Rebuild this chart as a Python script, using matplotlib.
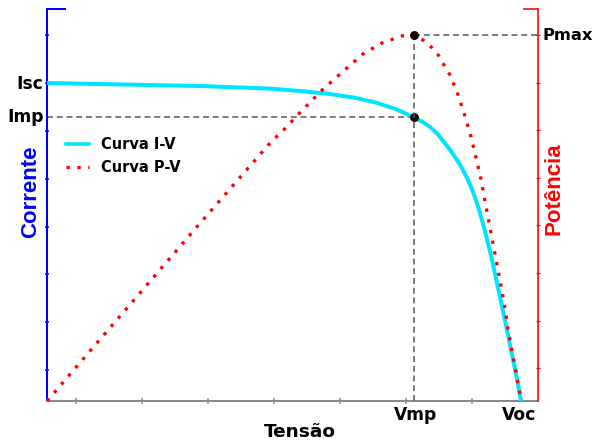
import matplotlib
matplotlib.use("Agg")
import matplotlib.pyplot as plt
from matplotlib.lines import Line2D

# ---------------- data ----------------
# I-V curve: voltage (V) and current (A)
V_IV = [0.0, 6.95, 10.13, 11.49, 12.85, 13.99, 14.90, 15.81, 16.67, 17.03, 17.40, 17.76,
        18.12, 18.39, 18.67, 18.89, 19.08, 19.26, 19.44, 19.62, 19.80, 19.98,
        20.17, 20.35, 20.53, 20.71, 20.89, 21.07, 21.26, 21.44, 21.53]
I_IV = [6.652, 6.589, 6.535, 6.485, 6.422, 6.343, 6.247, 6.113, 5.934, 5.847, 5.732, 5.575,
        5.365, 5.198, 5.010, 4.832, 4.665, 4.476, 4.257, 4.006, 3.713, 3.389,
        3.033, 2.657, 2.270, 1.883, 1.485, 1.077, 0.659, 0.230, 0.0]

# P-V curve: voltage (V) and power (W)
V_PV = [0.0, 6.81, 10.13, 10.78, 11.45, 12.49, 13.63, 14.35, 15.21, 16.12, 16.67,
        17.08, 17.49, 17.80, 18.03, 18.30, 18.67, 18.98, 19.26, 19.49, 19.71,
        19.89, 20.07, 20.26, 20.44, 20.62, 20.80, 20.94, 21.12, 21.30, 21.48, 21.53]
P_PV = [0.0, 3.66, 5.42, 5.71, 6.04, 6.53, 7.00, 7.29, 7.52, 7.67, 7.69,
        7.58, 7.42, 7.25, 7.06, 6.85, 6.43, 5.99, 5.55, 5.10, 4.66,
        4.20, 3.76, 3.30, 2.86, 2.42, 1.95, 1.51, 1.05, 0.61, 0.15, 0.0]

ISC, IMP = 6.652, 5.934
VMP, VOC = 16.67, 21.45
PMAX = 7.69

X_MAX, I_MAX, P_MAX_AX = 22.3, 8.2, 8.235
X_TICKS = [1.3, 4.3, 7.3, 10.3, 13.3, 16.3, 19.3]
I_TICKS = [0.65, 1.65, 2.65, 3.65, 4.65, 5.65, 6.65, 7.65]
P_TICKS = [0.69, 1.69, 2.69, 3.69, 4.69, 5.69, 6.69, 7.69]

LEG_LABELS = ["Curva I-V", "Curva P-V"]
X_LABEL, I_LABEL, P_LABEL = "Tensão", "Corrente", "Potência"

# ---------------- figure ----------------
W, H = 596, 440
fig = plt.figure(figsize=(W / 100, H / 100), dpi=100)
ax = fig.add_axes([47 / W, 39 / H, 491 / W, 392 / H])
ax2 = ax.twinx()

CYAN = "#00E5FF"
RED = "#FF0000"
BLUE = "#0000FF"
GRAY = "#8a8a8a"
DASH = "#555555"
px = 0.72  # points per pixel

ax.set_xlim(0, X_MAX)
ax.set_ylim(0, I_MAX)
ax2.set_ylim(0, P_MAX_AX)

# spines
for s in ["top", "right"]:
    ax.spines[s].set_visible(False)
for s in ["top", "left", "bottom"]:
    ax2.spines[s].set_visible(False)
ax.spines["left"].set_color(BLUE)
ax.spines["left"].set_linewidth(2 * px)
ax.spines["bottom"].set_color(GRAY)
ax.spines["bottom"].set_linewidth(2 * px)
ax2.spines["right"].set_color(RED)
ax2.spines["right"].set_linewidth(1.6 * px)

# ticks
ax.set_xticks(X_TICKS)
ax.set_xticklabels([])
ax.tick_params(axis="x", direction="inout", length=6 * px, width=1.5 * px, color=GRAY)
ax.set_yticks(I_TICKS)
ax.set_yticklabels([])
ax.set_yticks([I_MAX], minor=True)
ax.set_yticklabels([], minor=True)
ax.tick_params(axis="y", which="major", direction="inout", length=5 * px,
               width=1.5 * px, color=BLUE)
ax.tick_params(axis="y", which="minor", direction="in", length=19 * px,
               width=2 * px, color=BLUE)
ax2.set_yticks(P_TICKS)
ax2.set_yticklabels([])
ax2.set_yticks([P_MAX_AX], minor=True)
ax2.set_yticklabels([], minor=True)
ax2.tick_params(axis="y", which="major", direction="inout", length=5 * px,
                width=1.2 * px, color=RED)
ax2.tick_params(axis="y", which="minor", direction="in", length=15 * px,
                width=1.6 * px, color=RED)

# dashed guide lines
dash_style = (0, (4, 2.5))
ax.plot([0, VMP], [IMP, IMP], color=DASH, lw=1.5 * px, ls=dash_style, zorder=1)
ax2.plot([VMP, VMP], [0, PMAX], color=DASH, lw=1.5 * px, ls=dash_style, zorder=1)
ax2.plot([VMP, X_MAX], [PMAX, PMAX], color=DASH, lw=1.5 * px, ls=dash_style, zorder=1)

# curves
dot_style = (0, (1, 2.3))
ax.plot(V_IV, I_IV, color=CYAN, lw=4 * px, solid_capstyle="butt",
        solid_joinstyle="round", zorder=3, clip_on=False)
ax2.plot(V_PV, P_PV, color=RED, lw=3.3 * px, ls=dot_style, zorder=4, clip_on=False)

# markers
ax.plot([VMP], [IMP], "o", color="#1a0505", ms=7.5 * px, zorder=5, clip_on=False)
ax2.plot([VMP], [PMAX], "o", color="#1a0505", ms=7.5 * px, zorder=5, clip_on=False)

# point labels
lab_kw = dict(fontweight="bold", color="black", family="DejaVu Sans")
ax.annotate("Isc", xy=(0, ISC), xycoords=("axes fraction", "data"), xytext=(-4 * px, -6 * px),
            textcoords="offset points", ha="right", va="baseline", fontsize=12.3, **lab_kw)
ax.annotate("Imp", xy=(0, IMP), xycoords=("axes fraction", "data"), xytext=(-3 * px, -5 * px),
            textcoords="offset points", ha="right", va="baseline", fontsize=12.3, **lab_kw)
ax2.annotate("Pmax", xy=(1, PMAX), xycoords=("axes fraction", "data"), xytext=(5 * px, -5 * px),
             textcoords="offset points", ha="left", va="baseline", fontsize=11.8, **lab_kw)
ax.annotate("Vmp", xy=(VMP, 0), xycoords=("data", "axes fraction"), xytext=(2 * px, -19 * px),
            textcoords="offset points", ha="center", va="baseline", fontsize=12.3, **lab_kw)
ax.annotate("Voc", xy=(VOC, 0), xycoords=("data", "axes fraction"), xytext=(0, -19 * px),
            textcoords="offset points", ha="center", va="baseline", fontsize=12.3, **lab_kw)

# axis titles
fig.text(300 / W, 1 - 437 / H, X_LABEL, ha="center", va="baseline", fontsize=13.3,
         fontweight="bold", color="black", family="DejaVu Sans")
fig.text(30.5 / W, 1 - 191.5 / H, I_LABEL, ha="center", va="center", rotation=90,
         fontsize=16, fontweight="bold", color=BLUE, family="Liberation Sans")
fig.text(554 / W, 1 - 189 / H, P_LABEL, ha="center", va="center", rotation=90,
         fontsize=16, fontweight="bold", color=RED, family="Liberation Sans")

# legend
handles = [Line2D([], [], color=CYAN, lw=3.5 * px),
           Line2D([], [], color=RED, lw=3.3 * px, ls=dot_style)]
leg = ax2.legend(handles, LEG_LABELS, loc="upper left",
                 bbox_to_anchor=(66 / W, 1 - 137 / H), bbox_transform=fig.transFigure,
                 frameon=False, borderpad=0, borderaxespad=0, handlelength=1.6,
                 handletextpad=0.8, labelspacing=0.55,
                 prop=dict(family="DejaVu Sans", weight="bold", size=10.5))

fig.savefig("out.png", dpi=100)
